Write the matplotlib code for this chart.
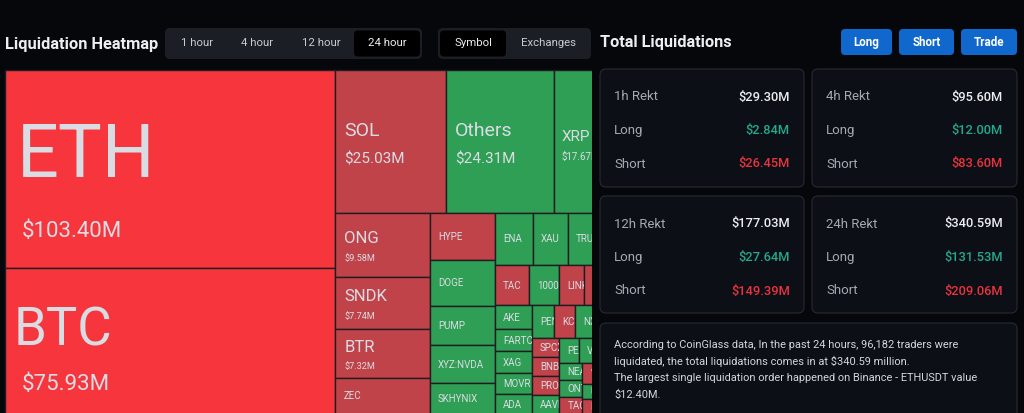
import matplotlib
matplotlib.use("Agg")
import matplotlib.pyplot as plt
from matplotlib.patches import Rectangle, FancyBboxPatch
from matplotlib.transforms import Bbox, TransformedBbox

# ---- data -------------------------------------------------------------
symbols = ["ETH", "BTC", "SOL", "Others", "XRP", "ONG", "SNDK", "BTR", "ZEC",
           "HYPE", "DOGE", "PUMP", "XYZ:NVDA", "SKHYNIX", "ENA", "XAU", "TRUMP",
           "SUI", "TAC", "1000PEPE", "LINK", "AVAX", "LTC", "AKE", "FARTCOIN",
           "XAG", "MOVR", "ADA", "PENGU", "KCS", "NXPC", "WIF", "ASTER", "SPCX",
           "BNB", "PROVE", "AAVE", "PENDLE", "VIRTUAL", "OP", "ARB", "NEAR",
           "ONT", "TAO", "WLFI", "APT", "ETC", "UNI", "DOT", "FIL", "ATOM",
           "INJ", "SEI"]
liq_values = [103.40, 75.93, 25.03, 24.31, 17.67, 9.58, 7.74, 7.32, 5.45,
              4.81, 4.71, 4.09, 3.89, 3.17, 3.09, 2.92, 2.68,
              2.58, 2.19, 1.87, 1.61, 1.56, 1.48, 1.38, 1.30,
              1.27, 1.23, 1.15, 1.14, 1.04, 0.99, 0.97, 0.95, 0.85,
              0.83, 0.82, 0.80, 0.78, 0.74, 0.70, 0.66, 0.65,
              0.62, 0.60, 0.58, 0.55, 0.53, 0.50, 0.46, 0.42, 0.37,
              0.33, 0.30]
# -2 strong drop, -1 drop, 1 rise
moves = [-2, -2, -1, 1, 1, -1, -1, -1, -1,
         -1, 1, 1, 1, 1, 1, 1, 1,
         1, -1, 1, -1, -1, 1, 1, 1,
         1, 1, 1, 1, -1, 1, 1, 1, -1,
         -1, -1, 1, 1, 1, 1, 1, 1,
         1, -1, -1, 1, 1, 1, -1, 1, 1,
         -1, 1]

periods = ["1 hour", "4 hour", "12 hour", "24 hour"]
views = ["Symbol", "Exchanges"]
actions = ["Long", "Short", "Trade"]
rekt_labels = ["1h Rekt", "4h Rekt", "12h Rekt", "24h Rekt"]
rekt_total = [29.30, 95.60, 177.03, 340.59]
rekt_long = [2.84, 12.00, 27.64, 131.53]
rekt_short = [26.45, 83.60, 149.39, 209.06]
summary_lines = [
    "According to CoinGlass data, In the past 24 hours, 96,182 traders were",
    "liquidated, the total liquidations comes in at $340.59 million.",
    "The largest single liquidation order happened on Binance - ETHUSDT value",
    "$12.40M.",
]

# ---- style ------------------------------------------------------------
BG = "#05070b"
CARD = "#0c0f15"
CARD_EDGE = "#262a33"
TAB_BG = "#1b1e25"
BLUE = "#1068cc"
GREY = "#a5a9b1"
WHITE = "#eceef2"
TXT_GREEN = "#25a88e"
TXT_RED = "#e8343f"
CELL_TXT = "#dadce4"
EDGE = "#1e1e22"
cell_colors = {-2: "#f6363c", -1: "#c1434a", 1: "#2f9f55"}
UI_FONT = "Roboto"

PHI = (1 + 5 ** 0.5) / 2
TM_W, TM_H = 627, 344


def worst(row, row_area, side, ratio):
    sq = row_area * row_area
    f = side * side * ratio
    return max(f * max(row) / sq, sq / (f * min(row)))


def position(row, row_area, side, rect, flush):
    x, y, w, h = rect
    horiz = side == w
    other = row_area / side if side else 0
    span = h if horiz else w
    if flush or other > span:
        other = span
    last = x if horiz else y
    end = (x + w) if horiz else (y + h)
    out = []
    for i, a in enumerate(row):
        step = a / other if other else 0
        remain = end - last
        length = remain if (i == len(row) - 1 or remain < step) else step
        if horiz:
            out.append((last, y, length, other))
        else:
            out.append((x, last, other, length))
        last += length
    if horiz:
        rect[1] += other
        rect[3] -= other
    else:
        rect[0] += other
        rect[2] -= other
    return out


def squarify(values, w, h, ratio=PHI):
    # echarts style squarified layout (golden-ratio target)
    total = sum(values)
    areas = [v / total * w * h for v in values]
    rect = [0.0, 0.0, w, h]
    side = min(w, h)
    rects, row, row_area, best = [], [], 0.0, float("inf")
    i = 0
    while i < len(areas):
        row.append(areas[i])
        row_area += areas[i]
        score = worst(row, row_area, side, ratio)
        if score <= best:
            i += 1
            best = score
        else:
            row_area -= row.pop()
            rects += position(row, row_area, side, rect, False)
            side = min(rect[2], rect[3])
            row, row_area, best = [], 0.0, float("inf")
    if row:
        rects += position(row, row_area, side, rect, True)
    return rects


def label_style(v):
    # name pt, value pt, name dy, value dy, name pad, value pad
    if v >= 90:
        return 53, 16, 8, 68, 12, 17
    if v >= 50:
        return 38, 16, 4, 49, 9, 17
    if v >= 20:
        return 14, 11, -5, 22, 9, 9
    if v >= 10:
        return 11, 7, 0, 18, 8, 8
    if v >= 7:
        return 12, 6.6, -1.5, 16.5, 9, 9
    return 7, None, 3.5, 0, 8, 0


def rbox(ax, x0, y0, x1, y1, r, fc, ec=None, lw=0.0):
    ax.add_patch(FancyBboxPatch((x0, y0), x1 - x0, y1 - y0,
                                boxstyle=f"round,pad=0,rounding_size={r}",
                                fc=fc, ec=ec if ec else fc, lw=lw))


def fit_label(t, clip, renderer):
    # keep only the characters that reach the visible part of the cell
    s = t.get_text()
    right = clip.x1
    if t.get_window_extent(renderer).x1 <= right:
        return
    for n in range(1, len(s) + 1):
        t.set_text(s[:n])
        if t.get_window_extent(renderer).x1 >= right:
            break


def main():
    fig = plt.figure(figsize=(10.24, 4.13), dpi=100)
    fig.patch.set_facecolor(BG)
    renderer = fig.canvas.get_renderer()

    bg = fig.add_axes([0, 0, 1, 1])
    bg.set_xlim(0, 1024)
    bg.set_ylim(413, 0)
    bg.axis("off")

    # header left
    bg.text(5, 44, "Liquidation Heatmap", color=WHITE, fontsize=11.8,
            fontweight="bold", family=UI_FONT, va="center")
    rbox(bg, 165, 28, 422, 59, 5, TAB_BG)
    rbox(bg, 354, 30.5, 420, 56.5, 4, "#000000")
    for label, cx in zip(periods, [197, 257, 321, 387]):
        bg.text(cx, 43.5, label, color=WHITE if label == "24 hour" else "#c8cbd2",
                fontsize=8.2, family=UI_FONT, ha="center", va="center")
    rbox(bg, 438, 28, 591, 59, 5, TAB_BG)
    rbox(bg, 440, 30.5, 506, 56.5, 4, "#000000")
    for label, cx in zip(views, [473, 548]):
        bg.text(cx, 43.5, label, color=WHITE if label == "Symbol" else "#c8cbd2",
                fontsize=8.2, family=UI_FONT, ha="center", va="center")

    # header right
    bg.text(600, 43, "Total Liquidations", color=WHITE, fontsize=11.7,
            fontweight="bold", family=UI_FONT, va="center")
    for label, (x0, x1) in zip(actions, [(841, 892), (899, 954), (961, 1017)]):
        rbox(bg, x0, 29, x1, 55, 4, BLUE)
        bg.text((x0 + x1) / 2, 42.5, label, color="white", fontsize=8.4,
                fontweight="bold", family=UI_FONT, ha="center", va="center")

    # rekt cards
    card_pos = [(600, 69, 804, 187), (812, 69, 1017, 187),
                (600, 196, 804, 313), (812, 196, 1017, 313)]
    for (x0, y0, x1, y1), lab, tot, lng, sht in zip(card_pos, rekt_labels,
                                                     rekt_total, rekt_long, rekt_short):
        rbox(bg, x0, y0, x1, y1, 6, CARD, CARD_EDGE, 0.8)
        rows = [(lab, f"${tot:.2f}M", WHITE), ("Long", f"${lng:.2f}M", TXT_GREEN),
                ("Short", f"${sht:.2f}M", TXT_RED)]
        for (name, val, col), dy in zip(rows, [28, 61.5, 95]):
            bg.text(x0 + 14, y0 + dy, name, color=GREY, fontsize=9.5,
                    family=UI_FONT, va="center")
            bg.text(x1 - 14, y0 + dy, val, color=col, fontsize=9.3,
                    family=UI_FONT, fontweight="medium", ha="right", va="center")

    rbox(bg, 600, 323, 1017, 440, 6, CARD, CARD_EDGE, 0.8)
    for k, line in enumerate(summary_lines):
        bg.text(614, 345 + k * 16.5, line, color="#d3d6dc", fontsize=7.9,
                family=UI_FONT, va="center")

    # treemap
    tm = fig.add_axes([4 / 1024, 0, 588 / 1024, 344 / 413])
    tm.set_xlim(-1, 587)
    tm.set_ylim(-343, 1)
    tm.axis("off")
    xl, yl = tm.get_xlim(), tm.get_ylim()

    rects = squarify(liq_values, TM_W, TM_H)
    for name, v, mv, (x, y, w, h) in zip(symbols, liq_values, moves, rects):
        tm.add_patch(Rectangle((x, -(y + h)), w, h, fc=cell_colors[mv],
                               ec=EDGE, lw=1.0))
        npt, vpt, ndy, vdy, npad, vpad = label_style(v)
        if x + npad >= xl[1] or y > -yl[0]:
            continue
        clip = TransformedBbox(Bbox.from_extents(max(x, xl[0]), max(-(y + h), yl[0]),
                                                 min(x + w, xl[1]), min(-y, yl[1])),
                               tm.transData)
        cy = y + h / 2
        t = tm.text(x + npad, -(cy + ndy), name, color=CELL_TXT, fontsize=npt,
                    family="Roboto", va="baseline", clip_on=True)
        t.set_clip_box(clip)
        fit_label(t, clip, renderer)
        if vpt:
            t = tm.text(x + vpad, -(cy + vdy), f"${v:.2f}M", color=CELL_TXT,
                        fontsize=vpt, family="Roboto", va="baseline", clip_on=True)
            t.set_clip_box(clip)
            fit_label(t, clip, renderer)

    fig.savefig("out.png", dpi=100, facecolor=BG)


if __name__ == "__main__":
    main()
